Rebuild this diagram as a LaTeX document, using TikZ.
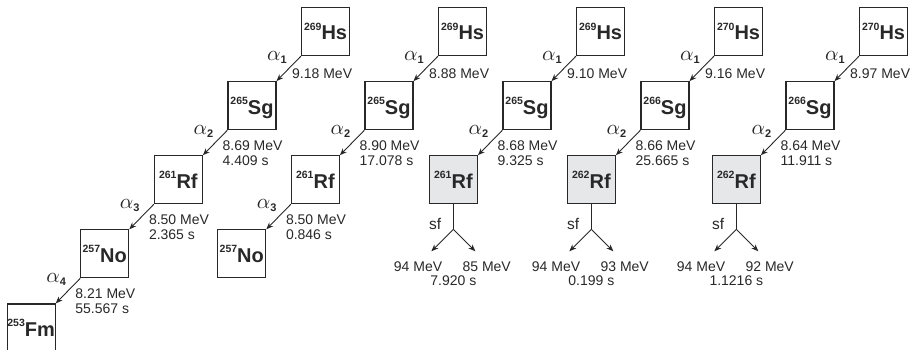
\documentclass[tikz,border=0pt]{standalone}
\usepackage{fontspec}
\setmainfont{Liberation Sans}
\usetikzlibrary{positioning, arrows.meta}

\definecolor{boxgray}{RGB}{230,231,233}
\definecolor{ink}{RGB}{40,40,40}

% Nuclide: massa in apice, simbolo grande
\newcommand{\nuc}[2]{\bfseries\raisebox{9.5pt}{\fontsize{10.5}{10.5}\selectfont #1}\fontsize{20}{20}\selectfont #2}
\newcommand{\alf}[1]{\scalebox{2.1}{$\alpha$}\raisebox{-3pt}{\fontsize{11}{11}\selectfont\bfseries #1}}

\begin{document}
\begin{tikzpicture}[>={Stealth[length=7pt, width=5.5pt]}, x=1pt, y=-1pt, color=ink,
    nbox/.style={draw=ink, line width=1.1pt, minimum size=48pt, inner sep=0pt, text depth=0pt, anchor=north west},
    sfbox/.style={nbox, fill=boxgray},
    dec/.style={->, draw=ink, line width=0.9pt},
    alab/.style={anchor=base east, xshift=-14pt, yshift=-4pt, inner sep=0pt},
    elab/.style={anchor=north west, xshift=-5pt, yshift=-10pt, inner sep=0pt, align=left, font=\fontsize{14}{15.5}\selectfont},
    flab/.style={inner sep=0pt, yshift=-10pt, font=\fontsize{14}{15.5}\selectfont},
    sflab/.style={anchor=base east, xshift=-12pt, inner sep=0pt, font=\fontsize{15.5}{15.5}\selectfont},
    gap/.style={below left=25pt and 24.5pt of #1}]
    \useasboundingbox (0,0) rectangle (915,350);

    % Catena 1
    \node[nbox] (hs1) at (301,7) {\nuc{269}{Hs}};
    \node[nbox, gap=hs1] (sg1) {\nuc{265}{Sg}};
    \node[nbox, gap=sg1] (rf1) {\nuc{261}{Rf}};
    \node[nbox, gap=rf1] (no1) {\nuc{257}{No}};
    \node[nbox, gap=no1] (fm1) {\nuc{253}{Fm}};
    \draw[dec] (hs1.south west) -- (sg1.north east);
    \draw[dec] (sg1.south west) -- (rf1.north east);
    \draw[dec] (rf1.south west) -- (no1.north east);
    \draw[dec] (no1.south west) -- (fm1.north east);
    \node[alab] (a11) at (hs1.south west) {\alf{1}};
    \node[alab] (a12) at (sg1.south west) {\alf{2}};
    \node[alab] (a13) at (rf1.south west) {\alf{3}};
    \node[alab] (a14) at (no1.south west) {\alf{4}};
    \node[elab, xshift=-4pt, yshift=-2pt] (e11) at (hs1.south west) {9.18 MeV};
    \node[elab] (e12) at (sg1.south west) {8.69 MeV\\4.409 s};
    \node[elab] (e13) at (rf1.south west) {8.50 MeV\\2.365 s};
    \node[elab] (e14) at (no1.south west) {8.21 MeV\\55.567 s};

    % Catena 2
    \node[nbox] (hs2) at (438,7) {\nuc{269}{Hs}};
    \node[nbox, gap=hs2] (sg2) {\nuc{265}{Sg}};
    \node[nbox, gap=sg2] (rf2) {\nuc{261}{Rf}};
    \node[nbox, gap=rf2] (no2) {\nuc{257}{No}};
    \draw[dec] (hs2.south west) -- (sg2.north east);
    \draw[dec] (sg2.south west) -- (rf2.north east);
    \draw[dec] (rf2.south west) -- (no2.north east);
    \node[alab] (a21) at (hs2.south west) {\alf{1}};
    \node[alab] (a22) at (sg2.south west) {\alf{2}};
    \node[alab] (a23) at (rf2.south west) {\alf{3}};
    \node[elab, xshift=-4pt, yshift=-2pt] (e21) at (hs2.south west) {8.88 MeV};
    \node[elab] (e22) at (sg2.south west) {8.90 MeV\\17.078 s};
    \node[elab] (e23) at (rf2.south west) {8.50 MeV\\0.846 s};

    % Catena 3
    \node[nbox] (hs3) at (576,7) {\nuc{269}{Hs}};
    \node[nbox, gap=hs3] (sg3) {\nuc{265}{Sg}};
    \node[sfbox, gap=sg3] (rf3) {\nuc{261}{Rf}};
    \draw[dec] (hs3.south west) -- (sg3.north east);
    \draw[dec] (sg3.south west) -- (rf3.north east);
    \node[alab] (a31) at (hs3.south west) {\alf{1}};
    \node[alab] (a32) at (sg3.south west) {\alf{2}};
    \node[elab, xshift=-4pt, yshift=-2pt] (e31) at (hs3.south west) {9.10 MeV};
    \node[elab] (e32) at (sg3.south west) {8.68 MeV\\9.325 s};
    \coordinate[below=25pt of rf3] (s3);
    \coordinate[below left=22pt and 22pt of s3] (l3);
    \coordinate[below right=22pt and 22pt of s3] (r3);
    \draw[dec, -] (rf3) -- (s3);
    \draw[dec] (s3) -- (l3);
    \draw[dec] (s3) -- (r3);
    \node[sflab] (f3) at (s3) {sf};
    \node[flab, anchor=north east, xshift=11pt] (m3a) at (l3) {94 MeV};
    \node[flab, anchor=north west, xshift=-13pt] (m3b) at (r3) {85 MeV};
    \node[flab, anchor=north, yshift=-14pt] (t3) at (s3 |- l3) {7.920 s};

    % Catena 4
    \node[nbox] (hs4) at (714,7) {\nuc{270}{Hs}};
    \node[nbox, gap=hs4] (sg4) {\nuc{266}{Sg}};
    \node[sfbox, gap=sg4] (rf4) {\nuc{262}{Rf}};
    \draw[dec] (hs4.south west) -- (sg4.north east);
    \draw[dec] (sg4.south west) -- (rf4.north east);
    \node[alab] (a41) at (hs4.south west) {\alf{1}};
    \node[alab] (a42) at (sg4.south west) {\alf{2}};
    \node[elab, xshift=-4pt, yshift=-2pt] (e41) at (hs4.south west) {9.16 MeV};
    \node[elab] (e42) at (sg4.south west) {8.66 MeV\\25.665 s};
    \coordinate[below=25pt of rf4] (s4);
    \coordinate[below left=22pt and 22pt of s4] (l4);
    \coordinate[below right=22pt and 22pt of s4] (r4);
    \draw[dec, -] (rf4) -- (s4);
    \draw[dec] (s4) -- (l4);
    \draw[dec] (s4) -- (r4);
    \node[sflab] (f4) at (s4) {sf};
    \node[flab, anchor=north east, xshift=11pt] (m4a) at (l4) {94 MeV};
    \node[flab, anchor=north west, xshift=-13pt] (m4b) at (r4) {93 MeV};
    \node[flab, anchor=north, yshift=-14pt] (t4) at (s4 |- l4) {0.199 s};

    % Catena 5
    \node[nbox] (hs5) at (859,7) {\nuc{270}{Hs}};
    \node[nbox, gap=hs5] (sg5) {\nuc{266}{Sg}};
    \node[sfbox, gap=sg5] (rf5) {\nuc{262}{Rf}};
    \draw[dec] (hs5.south west) -- (sg5.north east);
    \draw[dec] (sg5.south west) -- (rf5.north east);
    \node[alab] (a51) at (hs5.south west) {\alf{1}};
    \node[alab] (a52) at (sg5.south west) {\alf{2}};
    \node[elab, xshift=-4pt, yshift=-2pt] (e51) at (hs5.south west) {8.97 MeV};
    \node[elab] (e52) at (sg5.south west) {8.64 MeV\\11.911 s};
    \coordinate[below=25pt of rf5] (s5);
    \coordinate[below left=22pt and 22pt of s5] (l5);
    \coordinate[below right=22pt and 22pt of s5] (r5);
    \draw[dec, -] (rf5) -- (s5);
    \draw[dec] (s5) -- (l5);
    \draw[dec] (s5) -- (r5);
    \node[sflab] (f5) at (s5) {sf};
    \node[flab, anchor=north east, xshift=11pt] (m5a) at (l5) {94 MeV};
    \node[flab, anchor=north west, xshift=-13pt] (m5b) at (r5) {92 MeV};
    \node[flab, anchor=north, yshift=-14pt] (t5) at (s5 |- l5) {1.1216 s};
\end{tikzpicture}
\end{document}
